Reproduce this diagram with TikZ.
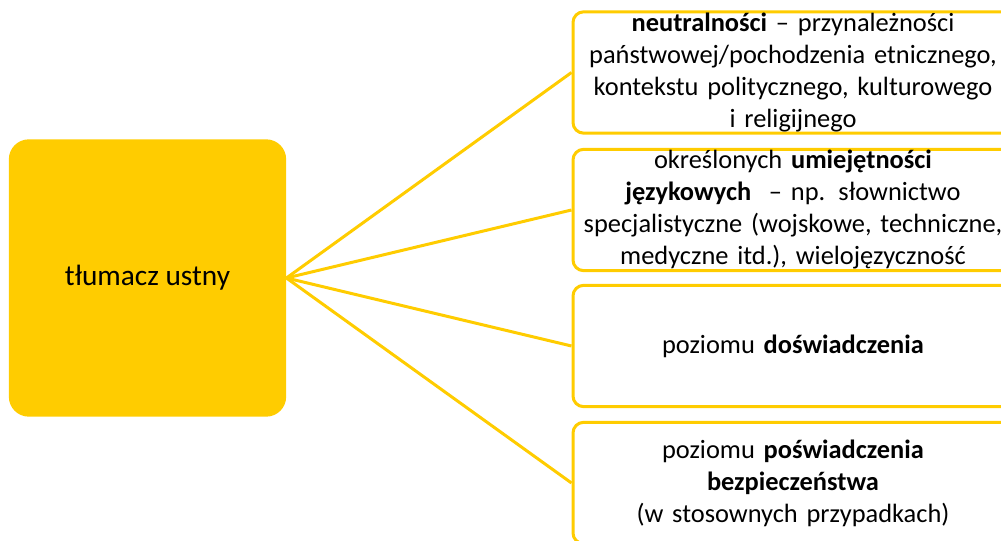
\documentclass[tikz,border=0pt]{standalone}
\usepackage{fontspec}
\setmainfont{Carlito}
\usepackage{tikz}
\usetikzlibrary{positioning}
\definecolor{myyellow}{HTML}{FFCC00}
\tikzstyle{root}=[rounded corners=15pt,fill=myyellow,minimum width=208pt,minimum height=208pt,inner sep=0pt,font=\fontsize{22}{27}\selectfont]
\tikzstyle{leaf}=[draw=myyellow,line width=2.25pt,rounded corners=8pt,fill=white,minimum width=330pt,minimum height=91pt,text width=320pt,align=center,inner sep=0pt]
\tikzstyle{link}=[draw=myyellow,line width=2.25pt]

\begin{document}
\begin{tikzpicture}[x=0.75pt,y=-0.75pt,every node/.style={font=\fontsize{19.8}{24}\selectfont}]

	\useasboundingbox (0,0) rectangle (1001,541);
	\clip (0,0) rectangle (1001,541);

	\node[root] (tl) at (147.5,278) {tłumacz ustny};

	\node[leaf] (neu) at (793,72.5) {\textbf{neutralności} – przynależności\\państwowej/pochodzenia etnicznego,\\kontekstu politycznego, kulturowego\\i religijnego};
	\node[leaf] (jez) at (793,210) {określonych \textbf{umiejętności}\\\textbf{językowych}\ \ – np. słownictwo\\specjalistyczne (wojskowe, techniczne,\\medyczne itd.), wielojęzyczność};
	\node[leaf] (dos) at (793,346) {poziomu \textbf{doświadczenia}};
	\node[leaf] (pos) at (793,483) {poziomu \textbf{poświadczenia}\\\textbf{bezpieczeństwa}\\(w stosownych przypadkach)};

	\draw[link] (tl.east) -- (neu.west);
	\draw[link] (tl.east) -- (jez.west);
	\draw[link] (tl.east) -- (dos.west);
	\draw[link] (tl.east) -- (pos.west);

\end{tikzpicture}
\end{document}
